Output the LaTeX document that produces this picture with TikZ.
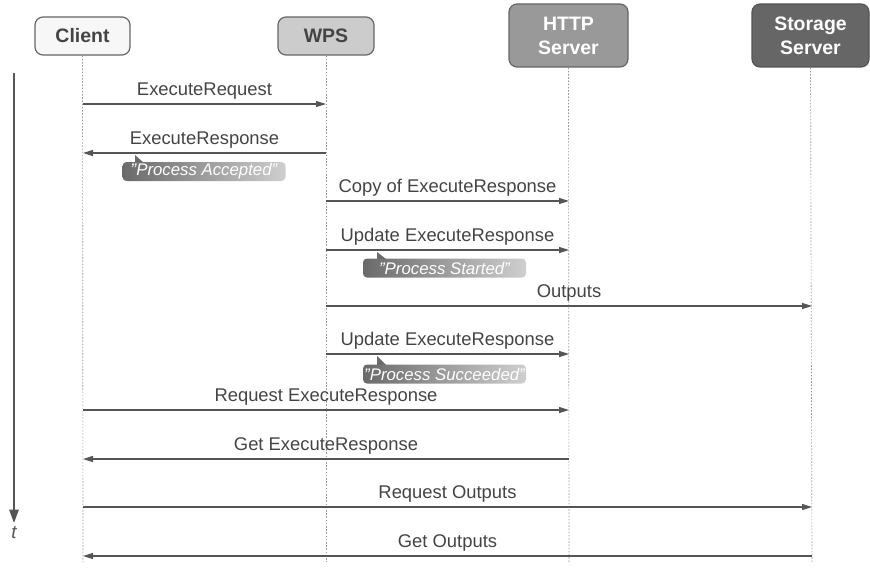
\documentclass[tikz,border=0pt]{standalone}
\usepackage{fontspec}
\setmainfont{Liberation Sans}
\usetikzlibrary{arrows.meta,shadings}
\definecolor{txt}{HTML}{444444}
\definecolor{ln}{HTML}{555555}
\definecolor{bd}{HTML}{666666}
\definecolor{f1}{HTML}{F7F7F7}
\definecolor{f2}{HTML}{CCCCCC}
\definecolor{f3}{HTML}{999999}
\definecolor{f4}{HTML}{666666}
\definecolor{nl}{HTML}{6A6A6A}
\definecolor{nr}{HTML}{CFCFCF}
\tikzset{
  actor/.style={draw=bd, line width=0.9pt, rounded corners=6pt, align=center,
    font=\fontsize{14.6}{18}\selectfont\bfseries, inner sep=0pt},
  life/.style={draw=f3, line width=0.5pt, dash pattern=on 1.2pt off 1.2pt},
  msg/.style={draw=ln, line width=1.1pt, -{Triangle[length=7.5pt,width=4.5pt]}},
  lbl/.style={text=txt, font=\fontsize{13.8}{16}\selectfont, inner sep=0pt},
  notebox/.style={rounded corners=3pt, left color=nl, right color=nr, text=white,
    font=\fontsize{12.6}{14}\selectfont\itshape, minimum width=122.25pt, minimum height=14.25pt, inner sep=0pt},
}
\begin{document}
\begin{tikzpicture}[x=0.75pt,y=-0.75pt]
\useasboundingbox (0,0) rectangle (870,567);
% actors
\node[actor, fill=f1, text=txt, minimum width=71.25pt, minimum height=28.5pt] (client) at (82.5,36) {Client};
\node[actor, fill=f2, text=txt, minimum width=72pt, minimum height=28.5pt] (wps) at (326,36) {WPS};
\node[actor, fill=f3, text=white, minimum width=89.25pt, minimum height=47.25pt] (http) at (568.5,35.5) {HTTP\\Server};
\node[actor, fill=f4, draw=ln, text=white, minimum width=87.75pt, minimum height=47.25pt] (stor) at (810.5,35.5) {Storage\\Server};
% lifelines
\coordinate (cEnd) at (83,562);
\coordinate (wEnd) at (326,562);
\coordinate (hEnd) at (569,562);
\coordinate (sEnd) at (812,562);
\draw[life] (client.south) -- (cEnd);
\draw[life] (wps.south) -- (wEnd);
\draw[life] (http.south) -- (hEnd);
\draw[life] (stor.south) -- (sEnd);
% time axis
\coordinate (t0) at (14,73);
\coordinate (t1) at (14,523);
\draw[draw=ln, line width=1.3pt, -{Triangle[length=10pt,width=7pt]}] (t0) -- (t1);
\node[text=ln, font=\fontsize{14}{16}\selectfont\itshape, inner sep=0pt] (tl) at (14,533) {t};
% message end points
\foreach \n/\y in {1/104,2/153,3/201,4/250,5/306,6/354,7/410,8/459,9/507,10/556}{
  \coordinate (c\n) at (83,\y);
  \coordinate (w\n) at (326,\y);
  \coordinate (h\n) at (569,\y);
  \coordinate (s\n) at (812,\y);
}
\draw[msg] (c1) -- node[lbl, above=3pt] (m1) {ExecuteRequest} (w1);
\draw[msg] (w2) -- node[lbl, above=3pt] (m2) {ExecuteResponse} (c2);
\draw[msg] (w3) -- node[lbl, above=3pt] (m3) {Copy of ExecuteResponse} (h3);
\draw[msg] (w4) -- node[lbl, above=3pt] (m4) {Update ExecuteResponse} (h4);
\draw[msg] (w5) -- node[lbl, above=3pt] (m5) {Outputs} (s5);
\draw[msg] (w6) -- node[lbl, above=3pt] (m6) {Update ExecuteResponse} (h6);
\draw[msg] (c7) -- node[lbl, above=3pt] (m7) {Request ExecuteResponse} (h7);
\draw[msg] (h8) -- node[lbl, above=3pt] (m8) {Get ExecuteResponse} (c8);
\draw[msg] (c9) -- node[lbl, above=3pt] (m9) {Request Outputs} (s9);
\draw[msg] (s10) -- node[lbl, above=3pt] (m10) {Get Outputs} (c10);
% notes
\fill[nl] (135,155) -- (135,163) -- (144,163) -- cycle;
\node[notebox] (n1) at (204,171.5) {"Process Accepted"};
\fill[nl] (377,252) -- (377,259) -- (386,259) -- cycle;
\node[notebox] (n2) at (444.5,268) {"Process Started"};
\fill[nl] (377,356) -- (377,365) -- (386,365) -- cycle;
\node[notebox] (n3) at (444.5,374) {"Process Succeeded"};
\end{tikzpicture}
\end{document}
